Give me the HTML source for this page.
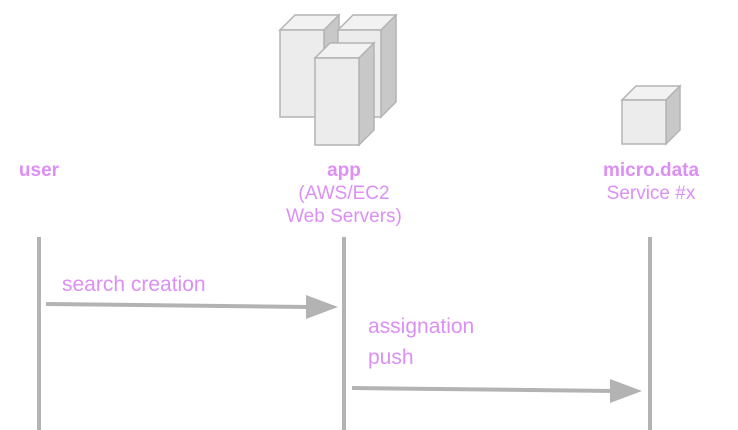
<!DOCTYPE html>
<html><head><style>
body{margin:0;background:#fff}
svg{display:block}
text{font-family:"Liberation Sans",sans-serif;fill:#dc8ff5;font-size:19px}
</style></head><body>
<svg width="738" height="430" viewBox="0 0 738 430">
<g stroke="#b3b3b3" stroke-width="1.5">
<polygon points="280,30 295,15 339,15 324,30" fill="#f2f2f2"/>
<polygon points="324,30 339,15 339,102 324,117" fill="#c8c8c8"/>
<rect x="280" y="30" width="44" height="87" fill="#ececec"/>
<polygon points="338,30 353,15 396,15 381,30" fill="#f2f2f2"/>
<polygon points="381,30 396,15 396,102 381,117" fill="#c8c8c8"/>
<rect x="338" y="30" width="43" height="87" fill="#ececec"/>
<polygon points="315,58 330,43 374,43 359,58" fill="#f2f2f2"/>
<polygon points="359,58 374,43 374,130 359,145" fill="#c8c8c8"/>
<rect x="315" y="58" width="44" height="87" fill="#ececec"/>
<polygon points="622,100 636,86 680,86 666,100" fill="#f2f2f2"/>
<polygon points="666,100 680,86 680,130 666,144" fill="#c8c8c8"/>
<rect x="622" y="100" width="44" height="44" fill="#ececec"/>
</g>
<text x="39" y="176" text-anchor="middle" font-weight="bold">user</text>
<text x="344" y="176" text-anchor="middle" font-weight="bold">app</text>
<text x="344" y="199" text-anchor="middle">(AWS/EC2</text>
<text x="344" y="222" text-anchor="middle">Web Servers)</text>
<text x="651" y="176" text-anchor="middle" font-weight="bold">micro.data</text>
<text x="651" y="199" text-anchor="middle">Service #x</text>
<g stroke="#b3b3b3" stroke-width="4">
<line x1="39" y1="237" x2="39" y2="430"/>
<line x1="344" y1="237" x2="344" y2="430"/>
<line x1="650" y1="237" x2="650" y2="430"/>
<line x1="46" y1="304" x2="310" y2="307"/>
<line x1="352" y1="388" x2="614" y2="391"/>
</g>
<polygon points="306,295 338,307 306,319" fill="#b3b3b3"/>
<polygon points="610,379 642,391 610,403" fill="#b3b3b3"/>
<text x="62" y="291" style="font-size:21px">search creation</text>
<text x="368" y="333" style="font-size:21px">assignation</text>
<text x="368" y="364" style="font-size:21px">push</text>
</svg>
</body></html>
